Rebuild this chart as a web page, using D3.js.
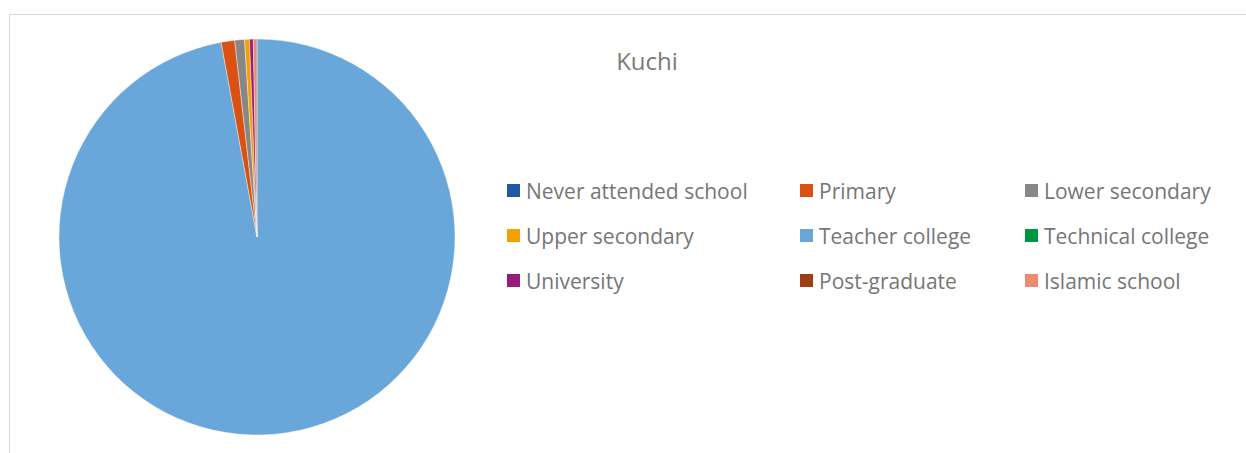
<!DOCTYPE html>
<html>
    <head>
        <meta charset="utf-8">
        <title>Kuchi</title>
        <style>
            body {
                margin: 0;
                background: #fff;
                font-family: "Open Sans", "Liberation Sans", Arial, sans-serif;
            }
        </style>
        <script src="https://d3js.org/d3.v7.min.js"></script>
    </head>
    <body>
        <svg></svg>
        <script>
            const categories = ["Never attended school", "Primary", "Lower secondary",
                "Upper secondary", "Teacher college", "Technical college",
                "University", "Post-graduate", "Islamic school"];
            const shares = [97.1, 1.1, 0.8, 0.4, 0, 0, 0.3, 0, 0.3];
            const legendColors = ["#1f5aa0", "#da5114", "#878787", "#f4a100", "#69a7da",
                "#00953f", "#951c7c", "#9c3d12", "#ee8a70"];
            // the big slice is filled light blue in the original, not its legend colour
            const sliceColors = legendColors.map((c, i) => i === 0 ? "#69a7da" : c);

            const width = 1246;
            const height = 453;
            const cx = 257, cy = 237, radius = 198;

            const svg = d3.select('svg')
                .attr('width', width)
                .attr('height', height);

            svg.append('rect')
                .attr('x', 9.5).attr('y', 14.5)
                .attr('width', width).attr('height', height)
                .attr('fill', 'none')
                .attr('stroke', '#d9d9d9');

            const pie = d3.pie().sort(null).value(d => d);
            const arc = d3.arc().innerRadius(0).outerRadius(radius);

            svg.append('g')
                .attr('transform', 'translate(' + cx + ',' + cy + ')')
                .selectAll('path')
                .data(pie(shares))
                .enter().append('path')
                .attr('d', arc)
                .attr('fill', (d, i) => sliceColors[i])
                .attr('stroke', '#fff')
                .attr('stroke-width', d => d.value > 0 ? 0.4 : 0);

            svg.append('text')
                .attr('x', 647).attr('y', 70)
                .attr('text-anchor', 'middle')
                .attr('fill', '#7a7a7a')
                .style('font-size', '24px')
                .text('Kuchi');

            const colX = [507, 800, 1025];
            const rowY = [199, 244, 289];

            const item = svg.append('g').selectAll('g')
                .data(categories)
                .enter().append('g')
                .attr('transform', (d, i) => 'translate(' + colX[i % 3] + ',' + rowY[Math.floor(i / 3)] + ')');

            item.append('rect')
                .attr('x', 0).attr('y', -15)
                .attr('width', 13).attr('height', 13)
                .attr('fill', (d, i) => legendColors[i]);

            item.append('text')
                .attr('x', 19).attr('y', 0)
                .attr('fill', '#767676')
                .style('font-size', '21px')
                .text(d => d);
        </script>
    </body>
</html>
